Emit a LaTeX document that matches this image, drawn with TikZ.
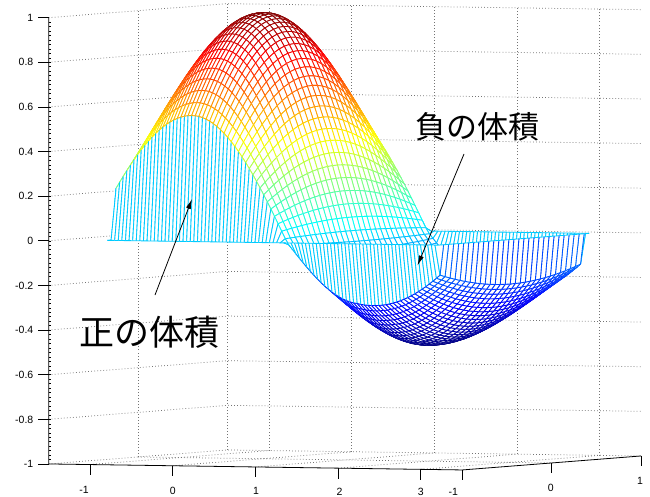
\documentclass[tikz,border=0pt]{standalone}
\usepackage{fontspec}
\setmainfont{Liberation Sans}
\newfontfamily\cjkfont{Noto Sans CJK JP}
\usetikzlibrary{arrows.meta}
\tikzset{
  gridl/.style={black!55, line width=0.75pt, dash pattern=on 0.75pt off 2.3pt},
  axisl/.style={black, line width=0.8pt},
  ticklab/.style={font=\fontsize{10.5}{12}\selectfont, inner sep=0pt},
  jlab/.style={inner sep=0pt},
  pointer/.style={black, line width=0.8pt, -{Latex[length=10pt,width=5pt]}}
}
\begin{document}
\begin{tikzpicture}[x=1pt,y=-1pt]
\useasboundingbox (0,0) rectangle (650,497);
\fill[white] (0,0) rectangle (650,497);
\begin{scope}[x={(82.7pt,-1.2pt)},y={(89.5pt,7pt)},z={(0pt,223.15pt)},shift={(262.2pt,-235.6pt)}]
  % grid of the box
  \foreach \zz in {-1,-0.8,-0.6,-0.4,-0.2,0,0.2,0.4,0.6,0.8,1}{
    \draw[gridl] (-1.5,-1,\zz) -- (-1.5,1,\zz) -- (3.5,1,\zz);}
  \foreach \yy in {0,1}{\draw[gridl] (-1.5,\yy,-1) -- (-1.5,\yy,1);}
  \foreach \xx in {-1,0,1,2,3}{
    \draw[gridl] (\xx,1,-1) -- (\xx,1,1);
    \draw[gridl] (\xx,-1,-1) -- (\xx,1,-1);}
  \draw[gridl] (-1.5,0,-1) -- (3.5,0,-1);
  % vertices of the mesh (with a zero border)
  \pgfmathsetmacro\hx{3.917/90}
  \pgfmathsetmacro\hy{1.57/28}
  \foreach \i in {0,...,92}{%
   \foreach \j in {0,...,30}{%
    \pgfmathsetmacro\xv{-0.917+(\i-1)*\hx}%
    \pgfmathsetmacro\yv{-0.785+(\j-1)*\hy}%
    \def\zv{0}%
    \ifnum\i>0 \ifnum\i<92 \ifnum\j>0 \ifnum\j<30
      \pgfmathsetmacro\gv{((\xv)<0)?cos(deg(1.25*(\xv))):(((\xv)<=1.15)?cos(deg(1.366*(\xv))):(((\xv)<=2.05)?(-0.48*sin(deg(1.745*((\xv)-1.15)))):(-0.48*cos(deg(1.2*((\xv)-2.05))))))}%
      \pgfmathsetmacro\kv{((\xv)<=2)?1.24:(1.24-0.19*((\xv)-2))}%
      \pgfmathsetmacro\zv{(\gv)*cos(deg((\kv)*(\yv)))}%
    \fi\fi\fi\fi
    \pgfmathsetmacro\tv{((\zv)+0.48)/1.48}%
    \pgfmathsetmacro\cR{max(0,min(1,min(4*(\tv)-1.5,4.5-4*(\tv))))}%
    \pgfmathsetmacro\cG{max(0,min(1,min(4*(\tv)-0.5,3.5-4*(\tv))))}%
    \pgfmathsetmacro\cB{max(0,min(1,min(4*(\tv)+0.5,2.5-4*(\tv))))}%
    \expandafter\xdef\csname V\i-\j\endcsname{\xv,\yv,\zv}%
    \expandafter\xdef\csname C\i-\j\endcsname{\cR,\cG,\cB}%
   }}
  % mesh, back to front
  \begin{scope}[line width=0.85pt]
  \foreach \j in {30,...,1}{%
   \pgfmathtruncatemacro\jm{\j-1}%
   \foreach \i in {0,...,91}{%
    \pgfmathtruncatemacro\ip{\i+1}%
    \ifnum\j=30
      \edef\cl{\csname C\i-\j\endcsname}\edef\cri{\csname C\ip-\j\endcsname}%
    \else
      \edef\cl{\csname C\i-\jm\endcsname}\edef\cri{\csname C\ip-\jm\endcsname}%
    \fi
    \edef\tmp{%
      \noexpand\definecolor{mB}{rgb}{\csname C\i-\jm\endcsname}%
      \noexpand\definecolor{mT}{rgb}{\csname C\i-\j\endcsname}%
      \noexpand\definecolor{mL}{rgb}{\cl}%
      \noexpand\definecolor{mR}{rgb}{\cri}%
      \noexpand\fill[white] (\csname V\i-\jm\endcsname) -- (\csname V\ip-\jm\endcsname) -- (\csname V\ip-\j\endcsname) -- (\csname V\i-\j\endcsname) -- cycle;
      \noexpand\draw[mL] (\csname V\i-\j\endcsname) -- (\csname V\i-\jm\endcsname);
      \noexpand\draw[mB] (\csname V\i-\jm\endcsname) -- (\csname V\ip-\jm\endcsname);
      \noexpand\draw[mT] (\csname V\i-\j\endcsname) -- (\csname V\ip-\j\endcsname);
      \noexpand\draw[mR] (\csname V\ip-\jm\endcsname) -- (\csname V\ip-\j\endcsname);}%
    \tmp
   }}
  \end{scope}
  % axes
  \draw[axisl] (-1.5,-1,1) -- (-1.5,-1,-1) -- (3.5,-1,-1) -- (3.5,1,-1);
  \foreach \zz in {-1,-0.8,-0.6,-0.4,-0.2,0,0.2,0.4,0.6,0.8,1}{
    \draw[axisl] (-1.5,-1,\zz) -- ++(-11pt,0pt);}
  \foreach \k in {1,...,99}{
    \pgfmathsetmacro\zm{-1+0.02*\k}
    \draw[black,line width=0.4pt] (-1.5,-1,\zm) -- ++(2.2pt,0pt);}
  \foreach \xx in {-1,0,1,2,3}{\draw[axisl] (\xx,-1,-1) -- ++(0pt,-10.5pt);}
  \foreach \yy in {-1,0,1}{\draw[axisl] (3.5,\yy,-1) -- ++(0pt,-10.5pt);}
\end{scope}
% tick labels
\node[ticklab,anchor=east] (z10) at (33.5,17.7) {1};
\node[ticklab,anchor=east] (z08) at (33.5,62.3) {0.8};
\node[ticklab,anchor=east] (z06) at (33.5,107) {0.6};
\node[ticklab,anchor=east] (z04) at (33.5,151.6) {0.4};
\node[ticklab,anchor=east] (z02) at (33.5,196.3) {0.2};
\node[ticklab,anchor=east] (z00) at (33.5,240.9) {0};
\node[ticklab,anchor=east] (zm2) at (33.5,285.5) {-0.2};
\node[ticklab,anchor=east] (zm4) at (33.5,330.1) {-0.4};
\node[ticklab,anchor=east] (zm6) at (33.5,374.8) {-0.6};
\node[ticklab,anchor=east] (zm8) at (33.5,419.4) {-0.8};
\node[ticklab,anchor=east] (zm10) at (33.5,464) {-1};
\node[ticklab] (xm1) at (84,490) {-1};
\node[ticklab] (x0) at (172.7,490.5) {0};
\node[ticklab] (x1) at (256,491) {1};
\node[ticklab] (x2) at (339.5,491.5) {2};
\node[ticklab] (x3) at (420.7,492) {3};
\node[ticklab] (ym1) at (453.3,492.3) {-1};
\node[ticklab] (y0) at (550.7,488.3) {0};
\node[ticklab] (y1) at (640,481) {1};
% annotations
\node[jlab,font=\cjkfont\fontsize{31}{36}\selectfont] (neg) at (477.5,127) {負の体積};
\node[jlab,font=\cjkfont\fontsize{35}{40}\selectfont] (pos) at (149,332) {正の体積};
\coordinate (posTail) at (155,295);
\coordinate (posHead) at (192,199);
\coordinate (negTail) at (464,154);
\coordinate (negHead) at (417.5,265.5);
\draw[pointer] (posTail) -- (posHead);
\draw[pointer] (negTail) -- (negHead);
\end{tikzpicture}
\end{document}
